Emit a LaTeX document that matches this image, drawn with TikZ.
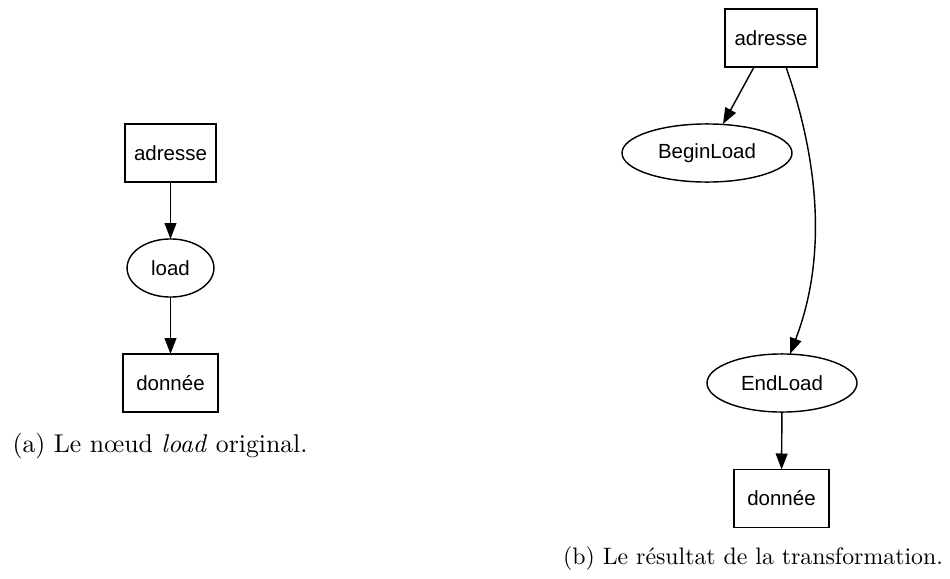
\documentclass[tikz,border=0pt]{standalone}
\usepackage{fontspec}
\newfontfamily\nodefont{Liberation Sans}
\usetikzlibrary{arrows.meta,shapes.geometric,calc}
\begin{document}
\begin{tikzpicture}[x=0.42pt,y=-0.42pt,
  every node/.style={inner sep=0pt,outer sep=0pt},
  boxnode/.style={draw,line width=0.6pt,rectangle,minimum width=38.5pt,minimum height=24.4pt,font=\nodefont\fontsize{8.6}{10}\selectfont},
  ellnode/.style={draw,line width=0.6pt,ellipse,minimum height=24.4pt,font=\nodefont\fontsize{8.6}{10}\selectfont},
  edge/.style={line width=0.6pt,-{Triangle[length=6.7pt,width=5pt]}},
  captxt/.style={anchor=base}]
\useasboundingbox (0,0) rectangle (950,579);
% (a)
\node[boxnode,minimum width=38.2pt] (a1) at (170.5,153) {adresse};
\node[ellnode,minimum width=36.5pt] (l1) at (170.5,268) {load};
\node[boxnode,minimum width=40pt] (d1) at (170.5,383) {donnée};
\draw[edge] (a1) -- (l1);
\draw[edge] (l1) -- (d1);
\node[captxt,font=\fontsize{10.8}{13}\selectfont] (ca) at (160,452) {(a) Le nœud \textit{load} original.};
% (b)
\node[boxnode,minimum width=38.6pt] (a2) at (771,38) {adresse};
\node[ellnode,minimum width=71.4pt] (b2) at (707,153) {BeginLoad};
\node[ellnode,minimum width=63pt] (e2) at (782,383) {EndLoad};
\node[boxnode,minimum width=40pt] (d2) at (781.5,498.5) {donnée};
\coordinate (s1) at ($(a2.south)+(-17,0)$);
\coordinate (t1) at ($(b2.north)+(16,0)$);
\coordinate (s2) at ($(a2.south)+(15,0)$);
\coordinate (t2) at ($(e2.north)+(8,0)$);
\draw[edge] (s1) -- (t1);
\draw[edge] (s2) .. controls (815,150) and (830,250) .. (t2);
\draw[edge] (e2) -- (d2);
\node[captxt,font=\fontsize{10}{12}\selectfont] (cb) at (753,564) {(b) Le résultat de la transformation.};
\end{tikzpicture}
\end{document}
